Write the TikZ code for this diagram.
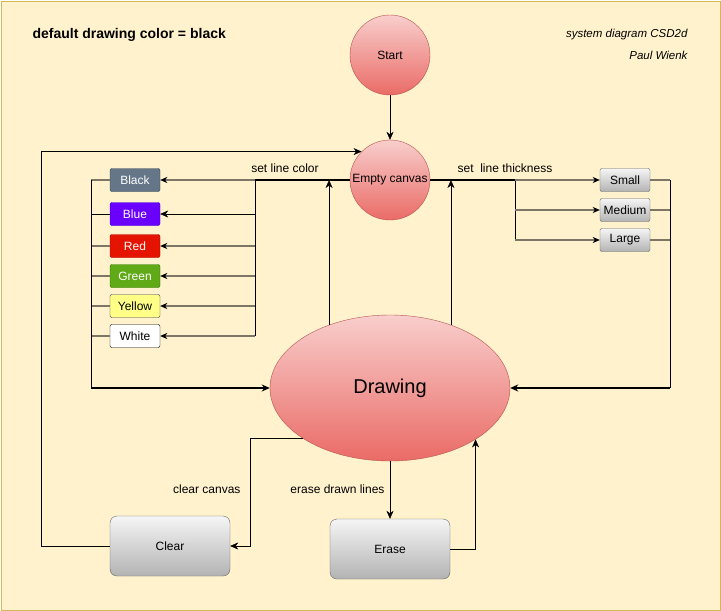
\documentclass[tikz,border=0pt]{standalone}
\usepackage{fontspec}
\setmainfont{Liberation Sans}
\usetikzlibrary{shapes.geometric, positioning, arrows.meta}
\definecolor{paper}{HTML}{FFF2CC}
\definecolor{paperedge}{HTML}{D6B656}
\definecolor{redtop}{HTML}{F8CECC}
\definecolor{redbot}{HTML}{EA6B66}
\definecolor{rededge}{HTML}{B85450}
\definecolor{greytop}{HTML}{F5F5F5}
\definecolor{greybot}{HTML}{B3B3B3}
\definecolor{greyedge}{HTML}{666666}
\definecolor{linegrey}{HTML}{7D7566}
\tikzset{
    x=1pt, y=-1pt, % pixel units, y runs downwards
    >={Stealth[length=8pt, width=7pt, inset=2.5pt]}, % arrow heads
    every node/.style={font=\fontsize{12}{14}\selectfont},
    bubble/.style={circle, minimum size=80pt, inner sep=0pt, draw=rededge, top color=redtop, bottom color=redbot},
    colorbox/.style={rectangle, rounded corners=2pt, minimum width=50pt, minimum height=23pt, inner sep=0pt},
    sizebox/.style={colorbox, draw=greyedge, top color=greytop, bottom color=greybot},
    actionbox/.style={rectangle, rounded corners=7pt, minimum width=120pt, minimum height=60pt, draw=greyedge, top color=greytop, bottom color=greybot},
    greyline/.style={draw=linegrey, line width=1.5pt}, % thick grey branches
    greyarrow/.style={greyline, -{Stealth[length=7pt, width=6pt, inset=2pt, color=black]}},
    thickline/.style={line width=1.5pt},
}

\begin{document}
\begin{tikzpicture}
\useasboundingbox (0,0) rectangle (721,611);
\draw[fill=paper, draw=paperedge] (0.75,0.75) rectangle (720.25,610.25);

% texts in the corners
\node[anchor=west, font=\fontsize{14}{16}\selectfont\bfseries] (title) at (29,35) {default drawing color = black};
\node[anchor=east, font=\fontsize{11.5}{13}\selectfont\itshape] (sys) at (691,35) {system diagram CSD2d};
\node[anchor=east, font=\fontsize{11.5}{13}\selectfont\itshape] (author) at (691,55) {Paul Wienk};

% states
\node[bubble] (start) at (390,55) {Start};
\node[bubble] (canvas) at (390,180) {Empty canvas};
\node[ellipse, minimum width=240pt, minimum height=146pt, inner sep=0pt, draw=rededge, top color=redtop, bottom color=redbot, font=\fontsize{20}{24}\selectfont] (drawing) at (390,388) {Drawing};
\node[actionbox] (clear) at (170,546) {Clear};
\node[actionbox] (erase) at (390,549) {Erase};

% colours
\node[colorbox, draw={rgb,255:red,49;green,67;blue,84}, fill={rgb,255:red,100;green,118;blue,135}, text=white] (black) at (135,180) {Black};
\node[colorbox, draw={rgb,255:red,55;green,0;blue,204}, fill={rgb,255:red,106;green,0;blue,255}, text=white] (blue) at (135,214) {Blue};
\node[colorbox, draw={rgb,255:red,178;green,0;blue,0}, fill={rgb,255:red,229;green,20;blue,0}, text=white] (red) at (135,246) {Red};
\node[colorbox, draw={rgb,255:red,45;green,118;blue,0}, fill={rgb,255:red,96;green,169;blue,23}, text=white] (green) at (135,276) {Green};
\node[colorbox, draw={rgb,255:red,54;green,57;blue,61}, fill={rgb,255:red,255;green,255;blue,136}] (yellow) at (135,306) {Yellow};
\node[colorbox, draw=black, fill=white] (white) at (135,336) {White};

% thicknesses
\node[sizebox] (small) at (625,180) {Small};
\node[sizebox] (medium) at (625,210) {Medium};
\node[sizebox] (large) at (625,240) {Large};

% branch points
\coordinate (lc) at (255,180);
\coordinate (ll) at (91,180);
\coordinate (rc) at (515,180);
\coordinate (rr) at (670,180);
\coordinate (tl) at (41,0);
\coordinate (cl) at (250,0);

\draw[->] (start) -- (canvas);

% set line color
\draw[thickline] (canvas.west) -- (lc);
\draw (lc) -- (lc |- white.east);
\draw[greyarrow] (lc) -- (black.east);
\draw[->] (lc |- blue.east) -- (blue.east);
\draw[greyarrow] (lc |- red.east) -- (red.east);
\draw[greyarrow] (lc |- green.east) -- (green.east);
\draw[greyarrow] (lc |- yellow.east) -- (yellow.east);
\draw[greyarrow] (lc |- white.east) -- (white.east);
\node (colorlabel) at (285,168) {set line color};

\draw[greyline] (black.west) -- (ll);
\draw (blue.west) -- (ll |- blue.west);
\draw[greyline] (red.west) -- (ll |- red.west);
\draw[greyline] (green.west) -- (ll |- green.west);
\draw[greyline] (yellow.west) -- (ll |- yellow.west);
\draw[greyline] (white.west) -- (ll |- white.west);
\draw (ll) -- (ll |- drawing.west);
\draw[->, thickline] (ll |- drawing.west) -- (drawing.west);

% set line thickness
\draw[thickline] (canvas.east) -- (rc);
\draw (rc) -- (rc |- large.west);
\draw[greyarrow] (rc) -- (small.west);
\draw[greyarrow] (rc |- medium.west) -- (medium.west);
\draw[greyarrow] (rc |- large.west) -- (large.west);
\node (sizelabel) at (505,168) {set\ \ line thickness};

\draw[greyline] (small.east) -- (rr);
\draw[greyline] (medium.east) -- (rr |- medium.east);
\draw[greyline] (large.east) -- (rr |- large.east);
\draw (rr) -- (rr |- drawing.east);
\draw[->, thickline] (rr |- drawing.east) -- (drawing.east);

% back to the canvas
\draw[->] (drawing.134) -- (drawing.134 |- canvas.west);
\draw[->] (drawing.46) -- (drawing.46 |- canvas.east);
\draw[->] (clear.west) -| (tl |- canvas.135) -- (canvas.135);

% clear and erase
\draw[->] (drawing.210) -| (cl |- clear.east) -- (clear.east);
\node[anchor=east] (clearlabel) at (244,489) {clear canvas};
\draw[->] (drawing.south) -- (erase.north);
\node[anchor=east] (eraselabel) at (388,489) {erase drawn lines};
\draw[->] (erase.east) -| (drawing.329);
\end{tikzpicture}
\end{document}
